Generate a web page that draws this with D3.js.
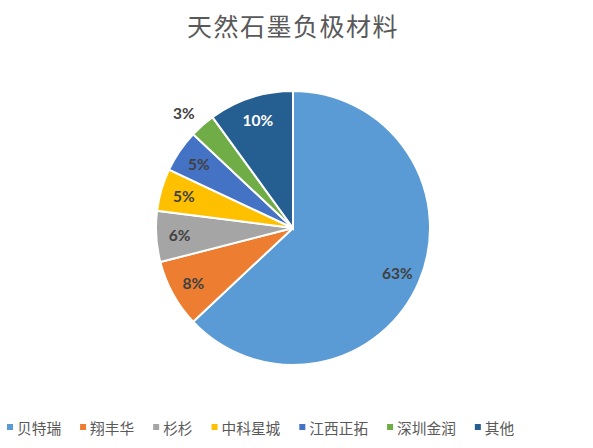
<!DOCTYPE html>
<html>
<head>
<meta charset="utf-8">
<script src="https://cdn.jsdelivr.net/npm/d3@7"></script>
<style>
  html, body { margin: 0; padding: 0; background: #fff; }
  svg { display: block; }
</style>
</head>
<body>
<div id="chart"></div>
<script>
// Podaci
const title = '天然石墨负极材料';
const names = ['贝特瑞', '翔丰华', '杉杉', '中科星城', '江西正拓', '深圳金润', '其他'];
const shares = [63, 8, 6, 5, 5, 3, 10];
const colors = ['#5B9BD5', '#ED7D31', '#A5A5A5', '#FFC000', '#4472C4', '#70AD47', '#255E91'];

const W = 593, H = 448;
const cx = 293, cy = 228, R = 137;
const cjk = "'Noto Sans CJK SC', 'Noto Sans', sans-serif";

const svg = d3.select('#chart').append('svg').attr('width', W).attr('height', H);

svg.append('text')
  .attr('x', 293).attr('y', 36)
  .attr('text-anchor', 'middle')
  .attr('fill', '#595959').attr('font-size', 25).attr('font-family', cjk)
  .attr('letter-spacing', 1.5)
  .text(title);

const data = names.map((n, i) => ({ name: n, value: shares[i], color: colors[i] }));
const pie = d3.pie().value(d => d.value).sort(null);
const arcs = pie(data);
const arc = d3.arc().innerRadius(0).outerRadius(R);
const lblArc = d3.arc().innerRadius(R * 0.83).outerRadius(R * 0.83);
const outArc = d3.arc().innerRadius(R * 1.16).outerRadius(R * 1.16);

const g = svg.append('g').attr('transform', `translate(${cx},${cy})`);
g.selectAll('path').data(arcs).join('path')
  .attr('d', arc)
  .attr('fill', d => d.data.color)
  .attr('stroke', '#fff').attr('stroke-width', 2);

// Male kriške (< 4%) dobivaju oznaku izvan pite
g.selectAll('text.lbl').data(arcs).join('text')
  .attr('class', 'lbl')
  .attr('transform', d => {
    const out = d.data.value < 4;
    const [x, y] = (out ? outArc : lblArc).centroid(d);
    return `translate(${out ? x - 4 : x},${out ? y + 4 : y})`;
  })
  .attr('text-anchor', 'middle').attr('dominant-baseline', 'central')
  .attr('fill', d => d.data.name === '其他' ? '#fff' : '#404040')
  .attr('font-size', 15.5).attr('font-weight', 700).attr('font-family', "Lato, 'Open Sans', sans-serif")
  .text(d => d.data.value + '%');

// Legenda
const leg = svg.append('g').attr('transform', 'translate(7,427)');
let lx = 0;
data.forEach(d => {
  const it = leg.append('g').attr('transform', `translate(${lx},0)`);
  it.append('rect').attr('x', 0).attr('y', -3).attr('width', 6).attr('height', 6).attr('fill', d.color);
  const t = it.append('text').attr('x', 10).attr('y', 0)
    .attr('dominant-baseline', 'central')
    .attr('fill', '#595959').attr('font-size', 14.7).attr('font-family', cjk)
    .text(d.name);
  lx += 10 + t.node().getComputedTextLength() + 19;
});
</script>
</body>
</html>
